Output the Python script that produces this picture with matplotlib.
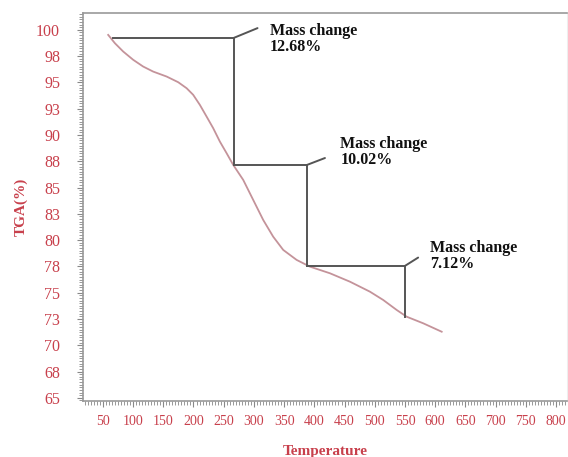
import numpy as np
import matplotlib.pyplot as plt
from matplotlib.ticker import MultipleLocator

# TGA curve
temp = [58.8, 69.9, 83.6, 100.2, 116.7, 133.3, 155.5, 174.7, 188.6, 199.5, 210.6, 221.7,
        232.6, 243.7, 254.8, 265.7, 282.3, 298.8, 315.4, 331.9, 348.5, 370.7, 392.7,
        425.8, 458.9, 492.0, 514.0, 536.3, 552.8, 580.3, 610.8]
tga = [99.52, 98.73, 97.94, 97.15, 96.51, 96.03, 95.56, 95.02, 94.45, 93.82, 92.86, 91.75,
       90.65, 89.37, 88.27, 87.16, 85.73, 83.83, 81.92, 80.33, 79.07, 78.12, 77.48,
       76.85, 76.05, 75.10, 74.31, 73.36, 72.72, 72.09, 71.29]

# corners of the step brackets
step_x = [66.6, 266.9, 387.7, 550]
step_y = [99.24, 87.15, 77.55, 72.69]
mass_change = ['12.68%', '10.02%', '7.12%']

# y ticks are evenly spaced, labels are rounded
ytick_vals = np.arange(65, 100.1, 2.5)
ytick_labels = ['65', '68', '70', '73', '75', '78', '80', '83', '85', '88', '90', '93', '95', '98', '100']
xtick_vals = np.arange(50, 801, 50)

red = '#c8404c'
grey = '#555555'

plt.rcParams['font.family'] = ['Liberation Serif', 'DejaVu Serif']

fig = plt.figure(figsize=(5.68, 4.57), dpi=100)
ax = fig.add_axes([0.146, 0.1225, 0.852, 0.849])

ax.plot(temp, tga, color='#c4939a', lw=1.3)

# brackets + leaders + text
lead = [(17, 7), (13, 5), (9.5, 6)]
txt = [(26, 11), (24, 21), (18, 19)]
for i in range(3):
    x0, x1 = step_x[i], step_x[i + 1]
    y0, y1 = step_y[i], step_y[i + 1]
    ax.plot([x0, x1, x1], [y0, y0, y1], color=grey, lw=1.4)
    ax.annotate('', xy=(x1, y0), xytext=lead[i], textcoords='offset points',
                arrowprops=dict(arrowstyle='-', color=grey, lw=1.4, shrinkA=0, shrinkB=0))
    ax.annotate('Mass change\n' + mass_change[i], xy=(x1, y0), xytext=txt[i],
                textcoords='offset points', ha='left', va='top',
                fontsize=11.5, fontweight='bold', color='#111111', linespacing=1.0)

ax.set_xlim(17, 818)
ax.set_ylim(64.7, 101.6)
ax.set_xticks(xtick_vals)
ax.set_yticks(ytick_vals)
ax.set_yticklabels(ytick_labels)
ax.xaxis.set_minor_locator(MultipleLocator(5))
ax.yaxis.set_minor_locator(MultipleLocator(0.25))
ax.tick_params(which='both', colors='#888888', labelcolor=red)
ax.tick_params(axis='x', which='major', length=4, labelsize=10, pad=6)
ax.tick_params(axis='y', which='major', length=4, labelsize=11.5, pad=12.5)
ax.tick_params(which='minor', length=3)

for s in ['left', 'bottom', 'top']:
    ax.spines[s].set_color('#999999')
    ax.spines[s].set_linewidth(1.2)
ax.spines['right'].set_color('#eeeeee')

ax.set_xlabel('Temperature', color=red, fontsize=11, fontweight='bold', labelpad=12)
ax.set_ylabel('TGA(%)', color=red, fontsize=11, fontweight='bold', labelpad=6)

fig.savefig('out.png', dpi=100)
